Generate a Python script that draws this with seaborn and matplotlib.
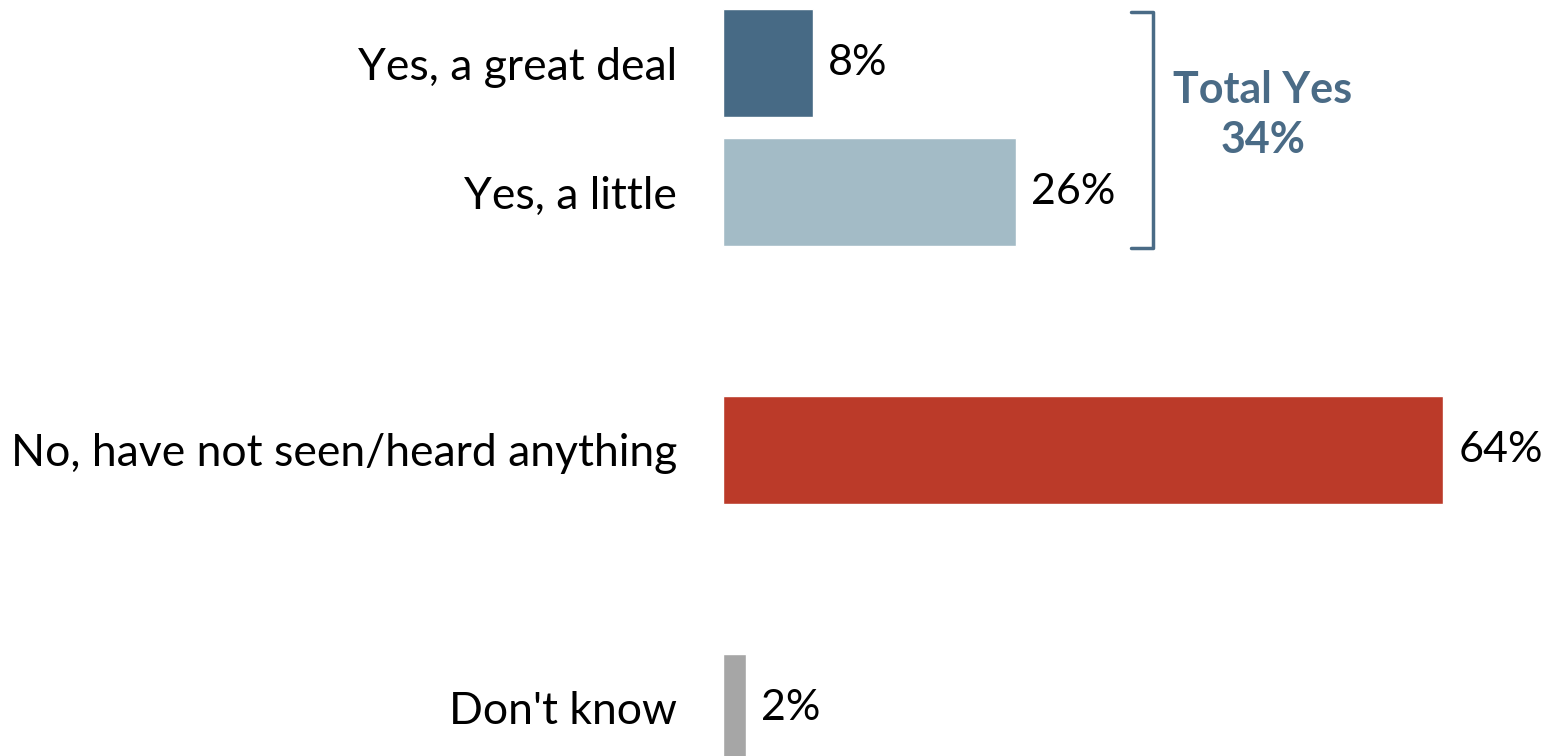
import pandas as pd
import matplotlib
matplotlib.use("Agg")
import matplotlib.pyplot as plt
import seaborn as sns

# survey answers and shares (%)
answers = ["Yes, a great deal", "Yes, a little", "No, have not seen/heard anything", "Don't know"]
shares = [8, 26, 64, 2]
colors = ["#476a85", "#a3bbc6", "#bb3a29", "#a6a6a6"]
total_yes = 34

# spacer rows give the gaps between the groups
order = [answers[0], answers[1], " ", answers[2], "  ", answers[3]]

sns.set_theme(style="white")
plt.rcParams["font.family"] = ["Lato", "DejaVu Sans"]

df = pd.DataFrame({"answer": answers, "share": shares})

fig = plt.figure(figsize=(15.44, 7.56), dpi=100)
ax = fig.add_axes([723 / 1544, 0, (1544 - 723) / 1544, 1])

sns.barplot(data=df, x="share", y="answer", order=order, hue="answer",
            hue_order=answers, palette=colors, legend=False, width=0.83,
            saturation=1, ax=ax)

ax.set_xlim(0, (1544 - 723) / 11.25)
ax.set_ylim((756 - 63) / 129, -63 / 129)
ax.set_xlabel("")
ax.set_ylabel("")
ax.set_xticks([])
sns.despine(ax=ax, left=True, bottom=True)
ax.tick_params(axis="y", length=0, pad=33, labelsize=32, labelcolor="black")

for cont in ax.containers:
    ax.bar_label(cont, fmt="%g%%", padding=11, fontsize=31, color="black")

# bracket over the two "Yes" bars
bc = "#4a6b86"
bx, tick = 38.2, 1.9
ax.plot([bx - tick, bx, bx, bx - tick], [-0.395, -0.395, 1.434, 1.434],
        color=bc, lw=2.5, solid_joinstyle="round", clip_on=False)
ax.text(48.0, 0.40, f"Total Yes\n{total_yes}%", ha="center", va="center",
        fontsize=31, fontweight="bold", color=bc, linespacing=1.3)

fig.savefig("out.png", dpi=100)
